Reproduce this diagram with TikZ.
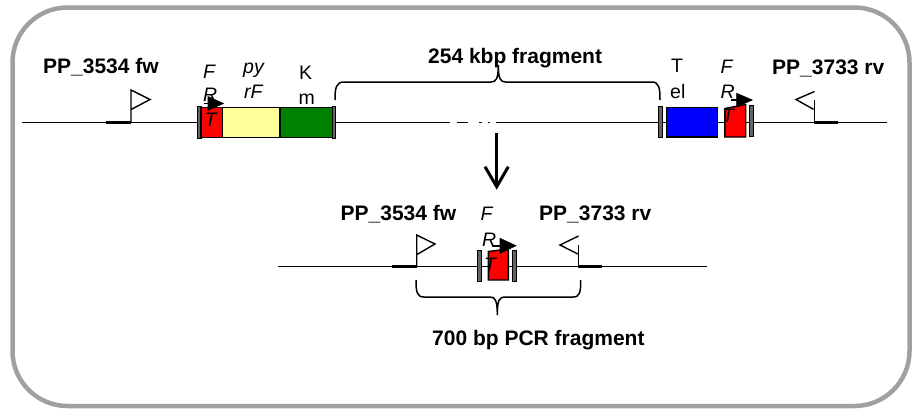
\documentclass[tikz,border=0pt]{standalone}
\usepackage{fontspec}
\setmainfont{Liberation Sans}
\definecolor{bordergray}{RGB}{160,160,160}
\definecolor{frtred}{RGB}{255,0,0}
\definecolor{pyryellow}{RGB}{255,255,153}
\definecolor{kmgreen}{RGB}{0,128,0}
\definecolor{telblue}{RGB}{0,0,255}
\definecolor{bargray}{RGB}{100,100,100}
\begin{document}
\begin{tikzpicture}[x=1pt,y=-1pt,
  lbl/.style={inner sep=0pt, anchor=base west, font=\fontsize{19.5}{23}\selectfont},
  il/.style={inner sep=0pt, anchor=base west, font=\fontsize{19.5}{23}\selectfont\itshape},
  bl/.style={inner sep=0pt, anchor=base west, font=\fontsize{21}{25}\selectfont\bfseries},
  dna/.style={line width=1.5pt},
  bind/.style={line width=2.6pt},
  flag/.style={line width=1.4pt, line join=miter},
  genebox/.style={draw=black, line width=1.4pt},
  barbox/.style={draw=black, fill=bargray, line width=0.9pt},
  brace/.style={line width=1.5pt},
  promo/.style={fill=black, draw=black, line width=0.6pt, line join=miter}]
\useasboundingbox (0,0) rectangle (912,410);
% frame
\draw[line width=4.5pt, bordergray, rounded corners=55pt] (12.5,7.5) rectangle (909.5,406);

% ---------- top chromosome line ----------
\coordinate (tL) at (22,122.5);
\coordinate (gapA) at (450,122.5);
\coordinate (dA) at (457,122.5);
\coordinate (dB) at (468,122.5);
\coordinate (o1a) at (479,122.5);
\coordinate (o1b) at (481.5,122.5);
\coordinate (o2a) at (487.5,122.5);
\coordinate (o2b) at (490,122.5);
\coordinate (gapB) at (496,122.5);
\coordinate (tR) at (887,122.5);
\draw[dna] (tL) -- (gapA);
\draw[dna] (dA) -- (dB);
\draw[dna] (o1a) -- (o1b);
\draw[dna] (o2a) -- (o2b);
\draw[dna] (gapB) -- (tR);

% primer binding sites (top)
\coordinate (p1a) at (106,122.5);
\coordinate (p1b) at (131,122.5);
\coordinate (p2a) at (814.3,122.5);
\coordinate (p2b) at (838,122.5);
\draw[bind] (p1a) -- (p1b);
\draw[bind] (p2a) -- (p2b);
% primer flags (top)
\draw[flag] (p1b) -- (131,90) -- (150,99.5) -- (131.5,109.3);
\draw[flag] (p2a) -- (814.3,100);
\draw[flag] (814.5,91.5) -- (796,99.5) -- (813.5,109.3);

% left cassette
\draw[barbox] (197.3,106.5) rectangle (201,138.3);
\draw[genebox, fill=frtred] (201,107.2) rectangle (222.5,137.5);
\draw[genebox, fill=pyryellow] (222.5,107.2) rectangle (280,137.5);
\draw[genebox, fill=kmgreen] (280,107.2) rectangle (332.3,137.5);
\draw[barbox] (332.3,106.5) rectangle (335.5,138.3);

% right cassette
\draw[barbox] (658.3,106) rectangle (662.8,137.3);
\draw[genebox, fill=telblue] (666.7,107.2) rectangle (717.3,137);
\draw[genebox, fill=frtred] (724.8,108.5) -- (745.7,104.5) -- (745.7,137) -- (724.8,137) -- cycle;
\draw[barbox] (749.3,105) rectangle (753.3,136.7);

% FRT promoter arrows (top)
\draw[line width=1.2pt] (204,103.5) -- (209,103.5);
\draw[promo] (208,96.5) -- (223.5,103.5) -- (208,110.3) -- cycle;
\draw[line width=1.2pt] (731,100) -- (737,100);
\draw[promo] (736.7,93.3) -- (752.3,100) -- (736.7,106.7) -- cycle;

% braces
\draw[brace] (335,100) .. controls (335,88) and (336,82) .. (344,82) -- (491,82)
  .. controls (496,82) and (498.3,79) .. (498.3,65)
  .. controls (498.3,79) and (500.6,82) .. (505.6,82) -- (652,82)
  .. controls (659,82) and (660,88) .. (660,100);

% labels (top)
\node[bl] (fwTop) at (43,73.5) {PP\_3534 fw};
\node[bl] (rvTop) at (772,74.3) {PP\_3733 rv};
\node[bl] (kbp) at (428,63.3) {254 kbp fragment};
\node[il] (f1) at (203,78.3) {F};
\node[il] (r1) at (203,101.5) {R};
\node[il] (t1) at (204.5,126.5) {T};
\node[il] (py) at (243,73.7) {py};
\node[il] (rf) at (244,98.3) {rF};
\node[lbl] (k) at (299,79) {K};
\node[lbl] (m) at (298.5,104) {m};
\node[lbl] (tt) at (671,72.7) {T};
\node[lbl] (el) at (670,98) {el};
\node[il] (f2) at (720.5,73.3) {F};
\node[il] (r2) at (720.5,98.3) {R};
\node[il] (t2) at (722,122.5) {T};

% ---------- down arrow ----------
\coordinate (aS) at (496.7,133.3);
\coordinate (aE) at (496.7,184);
\coordinate (aTip) at (496.7,186.7);
\draw[line width=3.3pt] (aS) -- (aE);
\draw[line width=3pt, line join=miter] (485,166.7) -- (aTip) -- (508.3,166.7);

% ---------- bottom line ----------
\coordinate (bL) at (278,266.7);
\coordinate (bR) at (706.7,266.7);
\draw[dna] (bL) -- (bR);
\coordinate (q1a) at (391.7,266.7);
\coordinate (q1b) at (416.7,266.7);
\coordinate (q2a) at (578.3,266.7);
\coordinate (q2b) at (601.7,266.7);
\draw[bind] (q1a) -- (q1b);
\draw[bind] (q2a) -- (q2b);
\draw[flag] (q1b) -- (416.7,235) -- (435,244) -- (417.3,254.3);
\draw[flag] (q2a) -- (578.3,244.5);
\draw[flag] (578.5,236) -- (560,245) -- (577.8,254);

\draw[barbox] (477.3,250) rectangle (481.7,281);
\draw[genebox, fill=frtred] (488.3,251.5) -- (508.3,249) -- (508.3,280) -- (488.3,280) -- cycle;
\draw[barbox] (512.7,250) rectangle (516.7,281);
\draw[line width=1.2pt] (492,246) -- (500.5,246);
\draw[promo] (500,238.3) -- (516,245.7) -- (500,253.3) -- cycle;

\draw[brace] (416,280) .. controls (416,292) and (417,297) .. (424,297) -- (490,297)
  .. controls (495,297) and (497.3,300) .. (497.3,315)
  .. controls (497.3,300) and (499.6,297) .. (504.6,297) -- (573,297)
  .. controls (580,297) and (580.7,292) .. (580.7,280);

\node[bl] (fwBot) at (340.5,220) {PP\_3534 fw};
\node[bl] (rvBot) at (539,220) {PP\_3733 rv};
\node[il] (f3) at (480.5,220) {F};
\node[il] (r3) at (482,246.7) {R};
\node[il] (t3) at (484,271) {T};
\node[bl] (pcr) at (432,345) {700 bp PCR fragment};
\end{tikzpicture}
\end{document}
